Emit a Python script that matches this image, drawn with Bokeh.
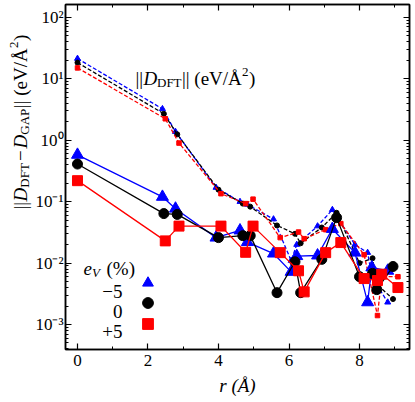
import math
from bokeh.plotting import figure
from bokeh.layouts import row
from bokeh.models import (Range1d, LinearAxis, LogAxis, LogTicker, SingleIntervalTicker,
                          CustomJSTickFormatter, Label, Legend, LegendItem, ColumnDataSource)
from bokeh.core.properties import value
from bokeh.embed import file_html
from bokeh.resources import INLINE

# ---------------- data ----------------
strains = ["\u22125", "0", "+5"]
colors = ["#0000ff", "#000000", "#ff0000"]
markers = ["triangle", "circle", "square"]

# neighbour distances r (Å) for each volumetric strain
r_m5 = [0, 2.41, 2.78, 3.93, 4.61, 4.82, 5.56, 6.06, 6.22, 6.81, 7.23, 7.87, 8.23, 8.35, 8.80]
r_0 = [0, 2.45, 2.83, 4.00, 4.69, 4.90, 5.66, 6.17, 6.33, 6.93, 7.35, 8.00, 8.37, 8.49, 8.95]
r_p5 = [0, 2.49, 2.88, 4.07, 4.77, 4.98, 5.75, 6.27, 6.43, 7.04, 7.47, 8.13, 8.51, 8.63, 9.09]

# ||D_DFT - D_GAP||  (solid lines, large markers)
err_m5 = [0.58, 0.12, 0.077, 0.026, 0.034, 0.022, 0.0143, 0.0072, 0.013, 0.0133, 0.036, 0.0148, 0.0023, 0.0085, 0.0075]
err_0 = [0.41, 0.064, 0.062, 0.026, 0.028, 0.028, 0.0033, 0.0105, 0.0033, 0.0115, 0.055, 0.006, 0.0068, 0.0037, 0.0088]
err_p5 = [0.22, 0.023, 0.040, 0.040, 0.015, 0.040, 0.0148, 0.0075, 0.0034, 0.0148, 0.0216, 0.0056, 0.0052, 0.0066, 0.0040]

# ||D_DFT||  (dashed lines, small markers)
dft_m5 = [21.4, 3.25, 1.38, 0.17, 0.10, 0.09, 0.052, 0.011, 0.020, 0.040, 0.074, 0.020, 0.0148, 0.006, 0.0023]
dft_0 = [18.4, 2.7, 1.25, 0.157, 0.093, 0.083, 0.041, 0.030, 0.021, 0.038, 0.066, 0.010, 0.012, 0.0045, 0.0026]
dft_p5 = [15.1, 2.24, 0.90, 0.135, 0.093, 0.11, 0.026, 0.032, 0.025, 0.035, 0.044, 0.0137, 0.0014, 0.006, 0.006]

x_label = "r (\u00c5)"

FONT = "Liberation Serif"

# page layout (pixels): left label strip | main plot
W_LEFT, W_MAIN, H = 32, 381, 402
FL, FR, FT, FB = 65, 409, 4, 349   # frame edges on the page

# ---------------- main figure ----------------
p = figure(width=W_MAIN, height=H, x_range=Range1d(-0.34, 9.418),
           y_range=Range1d(10 ** -3.407, 10 ** 2.211), y_axis_type="log",
           output_backend="svg", toolbar_location=None,
           min_border_left=FL - W_LEFT, min_border_right=W_LEFT + W_MAIN - FR,
           min_border_top=FT, min_border_bottom=H - FB)
p.xgrid.visible = False
p.ygrid.visible = False
p.outline_line_color = "black"
p.outline_line_width = 1.5
p.background_fill_color = "white"
p.border_fill_color = "white"

xticker = SingleIntervalTicker(interval=2, num_minor_ticks=2)
yticker = LogTicker(num_minor_ticks=10, desired_num_ticks=6)

sup_fmt = CustomJSTickFormatter(code="""
const sup = {'-':'\u207b','0':'\u2070','1':'\u00b9','2':'\u00b2','3':'\u00b3','4':'\u2074',
             '5':'\u2075','6':'\u2076','7':'\u2077','8':'\u2078','9':'\u2079'};
const e = Math.round(Math.log10(tick));
return '10' + String(e).split('').map(c => sup[c]).join('');
""")
blank_fmt = CustomJSTickFormatter(code="return ' ';")

top = LinearAxis(ticker=xticker, formatter=blank_fmt)
p.add_layout(top, "above")
right = LogAxis(ticker=yticker, formatter=blank_fmt)
p.add_layout(right, "right")

p.xaxis.ticker = xticker
p.yaxis.ticker = yticker
p.left[0].formatter = sup_fmt

for ax in [p.below[0], p.left[0], top, right]:
    ax.axis_line_color = "black"
    ax.axis_line_width = 1.5
    ax.major_tick_line_color = "black"
    ax.minor_tick_line_color = "black"
    ax.major_tick_line_width = 1.2
    ax.minor_tick_line_width = 1.0
    ax.major_tick_in = 6
    ax.major_tick_out = 0
    ax.minor_tick_in = 3
    ax.minor_tick_out = 0
    ax.axis_label = None
    ax.major_label_text_font = FONT
    ax.major_label_text_color = "black"
    ax.major_label_text_font_style = "normal"

for ax in [p.below[0], p.left[0]]:
    ax.major_label_text_font_size = "17px"
p.below[0].major_label_standoff = 5
p.left[0].major_label_standoff = 2
for ax in [top, right]:
    ax.major_label_text_font_size = "1px"
    ax.major_label_text_alpha = 0
    ax.major_label_standoff = 0

# x axis title
xa = p.below[0]
xa.axis_label = x_label
xa.axis_label_text_font = FONT
xa.axis_label_text_font_size = "19px"
xa.axis_label_text_font_style = "italic"
xa.axis_label_text_color = "black"
xa.axis_label_standoff = 6

# ---------------- series ----------------
rs = [r_m5, r_0, r_p5]
errs = [err_m5, err_0, err_p5]
dfts = [dft_m5, dft_0, dft_p5]
big = {"triangle": 12, "circle": 10, "square": 10}
small = {"triangle": 6, "circle": 5, "square": 4.5}

for r, d, c, m in zip(rs, dfts, colors, markers):
    src = ColumnDataSource(dict(r=r, v=d))
    p.line("r", "v", source=src, line_color=c, line_width=1.3, line_dash="4 2")
    p.scatter("r", "v", source=src, marker=m, size=small[m], fill_color=c, line_color=c)

legend_renderers = []
for r, e, c, m in zip(rs, errs, colors, markers):
    src = ColumnDataSource(dict(r=r, v=e))
    p.line("r", "v", source=src, line_color=c, line_width=1.3)
    sr = p.scatter("r", "v", source=src, marker=m, size=big[m], fill_color=c, line_color=c)
    legend_renderers.append(sr)


def lab(fig, ox, oy, text, px, py, size, italic=False, angle=0.0, align="left"):
    """Place text at page position (px, py); (ox, oy) is the page position of
    the figure frame's bottom-left corner."""
    fig.add_layout(Label(x=px - ox, y=oy - py, x_units="screen", y_units="screen",
                         text=text, text_font=FONT, text_font_size=f"{size}px",
                         text_font_style="italic" if italic else "normal",
                         angle=angle, text_align=align, text_baseline="alphabetic",
                         text_color="black"))


# ---------------- legend: one Legend per entry, labels at the left ----------------
G = 27
for rr, cy in zip(legend_renderers, [282, 302, 323]):
    lg = Legend(items=[LegendItem(label=value(" "), renderers=[rr])],
                location=(147 - FL - G / 2, FB - cy - G / 2), orientation="vertical",
                glyph_width=G, glyph_height=G, label_width=1, label_height=1,
                label_standoff=0, spacing=0, padding=0, margin=0,
                border_line_alpha=0, background_fill_alpha=0,
                label_text_font=FONT, label_text_font_size="2px")
    p.add_layout(lg)

for txt, yb in zip(strains, [290.5, 310.5, 331]):
    lab(p, FL, FB, txt, 122, yb, 19, align="right")

# legend title  e_V (%)
lab(p, FL, FB, "e", 83, 268, 19, italic=True)
lab(p, FL, FB, "V", 91.5, 272, 13, italic=True)
lab(p, FL, FB, "(%)", 106, 268, 19)

# in-plot label ||D_DFT|| (eV/Å^2)
bx, by = 135, 78
lab(p, FL, FB, "||", bx, by, 19)
lab(p, FL, FB, "D", bx + 8.0, by, 19, italic=True)
lab(p, FL, FB, "DFT", bx + 21.5, by + 4, 13)
lab(p, FL, FB, "|| (eV/\u00c5", bx + 46.5, by, 19)
lab(p, FL, FB, "2", bx + 106.5, by - 7, 13)
lab(p, FL, FB, ")", bx + 113.5, by, 19)

# ---------------- y axis label strip (rotated) ----------------
left = figure(width=W_LEFT, height=H, x_range=Range1d(0, 1), y_range=Range1d(0, 1),
              output_backend="svg", toolbar_location=None, title=None,
              x_axis_location=None, y_axis_location=None,
              min_border=0, min_border_left=0, min_border_right=0,
              min_border_top=0, min_border_bottom=0)
left.outline_line_color = None
left.xgrid.visible = False
left.ygrid.visible = False
left.background_fill_color = "white"
left.border_fill_color = "white"

A = math.pi / 2
ybx = 19.5    # baseline (page x)
y0 = 262      # start (page y)
pieces = [
    ("||", 0.0, 0, 19, False),
    ("D", 8.1, 0, 19, True),
    ("DFT", 21.8, 4, 13, False),
    ("\u2212", 48.4, 0, 19, False),
    ("D", 61.1, 0, 19, True),
    ("GAP", 74.8, 4, 13, False),
    ("|| (eV/\u00c5", 101.3, 0, 19, False),
    ("2", 161.6, -6.5, 13, False),
    (")", 168.6, 0, 19, False),
]
for txt, s, dy, size, it in pieces:
    lab(left, 0, H, txt, ybx + dy, y0 - s, size, italic=it, angle=A)

layout = row(left, p, spacing=0)
open("out.html", "w").write(file_html(layout, INLINE))
